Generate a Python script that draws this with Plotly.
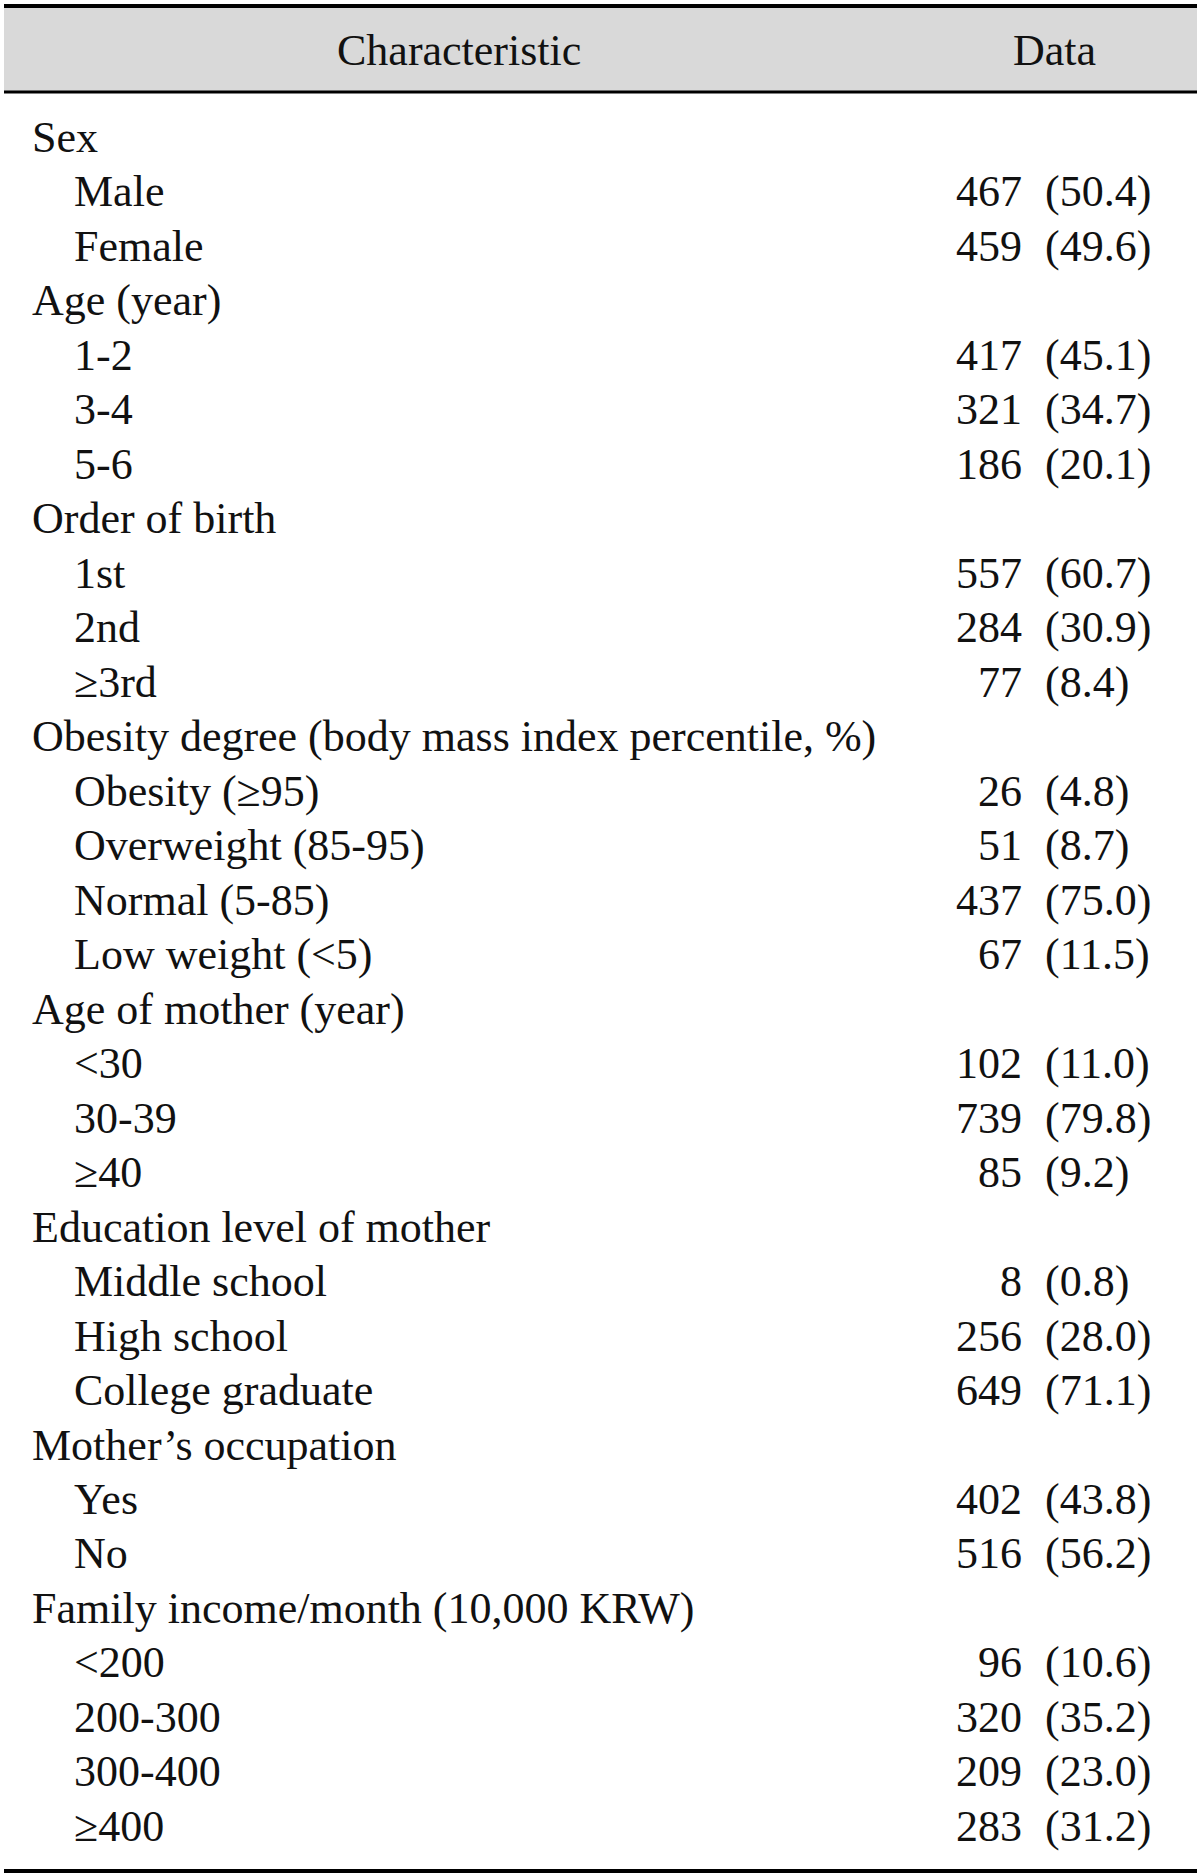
import plotly.graph_objects as go

# ---- data ----
labels = [
    "Sex", "Male", "Female",
    "Age (year)", "1-2", "3-4", "5-6",
    "Order of birth", "1st", "2nd", "≥3rd",
    "Obesity degree (body mass index percentile, %)",
    "Obesity (≥95)", "Overweight (85-95)", "Normal (5-85)", "Low weight (<5)",
    "Age of mother (year)", "<30", "30-39", "≥40",
    "Education level of mother", "Middle school", "High school", "College graduate",
    "Mother’s occupation", "Yes", "No",
    "Family income/month (10,000 KRW)", "<200", "200-300", "300-400", "≥400",
]
levels = [0, 1, 1,
          0, 1, 1, 1,
          0, 1, 1, 1,
          0, 1, 1, 1, 1,
          0, 1, 1, 1,
          0, 1, 1, 1,
          0, 1, 1,
          0, 1, 1, 1, 1]
counts = [None, 467, 459,
          None, 417, 321, 186,
          None, 557, 284, 77,
          None, 26, 51, 437, 67,
          None, 102, 739, 85,
          None, 8, 256, 649,
          None, 402, 516,
          None, 96, 320, 209, 283]
percents = [None, 50.4, 49.6,
            None, 45.1, 34.7, 20.1,
            None, 60.7, 30.9, 8.4,
            None, 4.8, 8.7, 75.0, 11.5,
            None, 11.0, 79.8, 9.2,
            None, 0.8, 28.0, 71.1,
            None, 43.8, 56.2,
            None, 10.6, 35.2, 23.0, 31.2]
header = ["Characteristic", "Data"]

# ---- layout constants ----
W, H = 1200, 1875
ROW0_PX = 141.0
PITCH = 54.48
FONT = "Liberation Serif, Times New Roman, serif"
FS = 44
X_GROUP, X_SUB, X_N, X_PCT = 32, 74, 1022, 1045

rows = list(range(len(labels)))
g_rows = [i for i in rows if levels[i] == 0]
s_rows = [i for i in rows if levels[i] == 1]
d_rows = [i for i in rows if counts[i] is not None]

fig = go.Figure()
tf = dict(family=FONT, size=FS, color="#111111")
fig.add_trace(go.Scatter(x=[X_GROUP] * len(g_rows), y=g_rows, mode="text",
                         text=[labels[i] for i in g_rows], textposition="middle right",
                         textfont=tf, hoverinfo="skip", showlegend=False))
fig.add_trace(go.Scatter(x=[X_SUB] * len(s_rows), y=s_rows, mode="text",
                         text=[labels[i] for i in s_rows], textposition="middle right",
                         textfont=tf, hoverinfo="skip", showlegend=False))
fig.add_trace(go.Scatter(x=[X_N] * len(d_rows), y=d_rows, mode="text",
                         text=[str(counts[i]) for i in d_rows], textposition="middle left",
                         textfont=tf, hoverinfo="skip", showlegend=False))
fig.add_trace(go.Scatter(x=[X_PCT] * len(d_rows), y=d_rows, mode="text",
                         text=["(%.1f)" % percents[i] for i in d_rows], textposition="middle right",
                         textfont=tf, hoverinfo="skip", showlegend=False))

def py(px):  # pixel from top -> paper y
    return 1 - px / H

shapes = [
    dict(type="rect", xref="paper", yref="paper", x0=4 / W, x1=1197 / W, y0=py(92), y1=py(6),
         fillcolor="#d9d9d9", line=dict(width=0), layer="below"),
    dict(type="line", xref="paper", yref="paper", x0=4 / W, x1=1197 / W, y0=py(6), y1=py(6),
         line=dict(color="#000000", width=4)),
    dict(type="line", xref="paper", yref="paper", x0=4 / W, x1=1197 / W, y0=py(92), y1=py(92),
         line=dict(color="#000000", width=3)),
    dict(type="line", xref="paper", yref="paper", x0=4 / W, x1=1197 / W, y0=py(1871), y1=py(1871),
         line=dict(color="#000000", width=4)),
]
annotations = [
    dict(text=header[0], xref="paper", yref="paper", x=459 / W, y=py(50.5), showarrow=False,
         xanchor="center", yanchor="middle", font=tf),
    dict(text=header[1], xref="paper", yref="paper", x=1054 / W, y=py(50.5), showarrow=False,
         xanchor="center", yanchor="middle", font=tf),
]

fig.update_layout(
    width=W, height=H, margin=dict(l=0, r=0, t=0, b=0),
    paper_bgcolor="white", plot_bgcolor="white",
    shapes=shapes, annotations=annotations,
    xaxis=dict(range=[0, W], visible=False, fixedrange=True),
    yaxis=dict(range=[(H - ROW0_PX) / PITCH, -ROW0_PX / PITCH], visible=False, fixedrange=True),
)
fig.write_html("out.html", config={"displayModeBar": False},
               post_script="document.body.style.margin='0';document.body.style.overflow='hidden';")
